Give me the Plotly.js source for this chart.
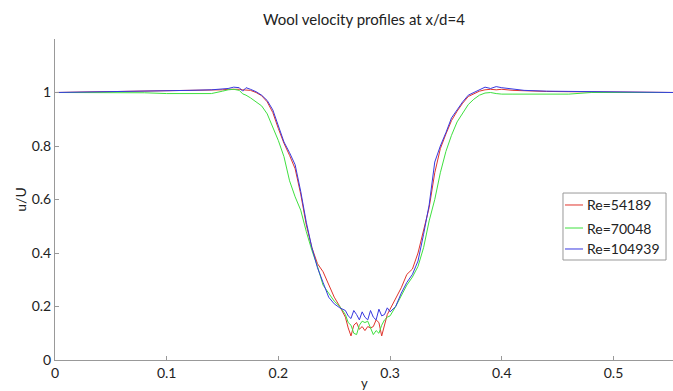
<!DOCTYPE html>
<html>
<head>
<meta charset="utf-8">
<script src="https://cdn.plot.ly/plotly-3.0.1.min.js"></script>
<style>html,body{margin:0;padding:0;background:#fff;}#chart{width:673px;height:391px;}</style>
</head>
<body>
<div id="chart"></div>
<script>
const xPos = [0, 0.02, 0.04, 0.06, 0.08, 0.10, 0.12, 0.14, 0.15, 0.155, 0.16, 0.165, 0.168, 0.171, 0.175, 0.18, 0.185, 0.19, 0.195, 0.20, 0.205, 0.21, 0.215, 0.22, 0.225, 0.23, 0.235, 0.24, 0.245, 0.25, 0.255, 0.26, 0.2625, 0.265, 0.2675, 0.27, 0.2725, 0.275, 0.2775, 0.28, 0.2825, 0.285, 0.2875, 0.29, 0.2925, 0.295, 0.2975, 0.30, 0.305, 0.31, 0.315, 0.32, 0.325, 0.33, 0.335, 0.34, 0.345, 0.35, 0.355, 0.36, 0.365, 0.37, 0.375, 0.38, 0.385, 0.39, 0.395, 0.40, 0.41, 0.42, 0.44, 0.46, 0.48, 0.50, 0.52, 0.54, 0.555];

const re54189 = [1.000, 1.001, 1.002, 1.003, 1.004, 1.006, 1.008, 1.009, 1.010, 1.012, 1.013, 1.012, 1.010, 1.010, 1.008, 1.000, 0.988, 0.965, 0.925, 0.865, 0.810, 0.765, 0.715, 0.620, 0.505, 0.420, 0.360, 0.330, 0.280, 0.235, 0.200, 0.160, 0.120, 0.090, 0.130, 0.140, 0.115, 0.125, 0.110, 0.125, 0.120, 0.125, 0.150, 0.140, 0.090, 0.130, 0.170, 0.190, 0.230, 0.270, 0.320, 0.340, 0.400, 0.480, 0.570, 0.700, 0.790, 0.845, 0.895, 0.930, 0.960, 0.985, 0.995, 1.005, 1.010, 1.012, 1.010, 1.012, 1.008, 1.006, 1.004, 1.003, 1.002, 1.001, 1.001, 1.000, 1.000];

const re70048 = [1.000, 1.000, 1.001, 1.001, 0.999, 0.996, 0.996, 0.996, 1.005, 1.010, 1.012, 1.008, 0.995, 0.990, 0.980, 0.965, 0.950, 0.920, 0.870, 0.820, 0.760, 0.670, 0.610, 0.560, 0.480, 0.410, 0.350, 0.280, 0.250, 0.220, 0.200, 0.170, 0.140, 0.130, 0.100, 0.095, 0.130, 0.145, 0.140, 0.145, 0.120, 0.095, 0.110, 0.100, 0.130, 0.150, 0.160, 0.165, 0.200, 0.240, 0.280, 0.310, 0.350, 0.420, 0.520, 0.600, 0.700, 0.780, 0.840, 0.890, 0.925, 0.955, 0.975, 0.990, 0.998, 1.000, 0.996, 0.994, 0.994, 0.994, 0.994, 0.994, 1.000, 1.000, 1.000, 1.000, 1.000];

const re104939 = [1.000, 1.001, 1.002, 1.003, 1.004, 1.005, 1.008, 1.010, 1.012, 1.015, 1.020, 1.018, 1.005, 1.018, 1.012, 1.003, 0.990, 0.970, 0.935, 0.875, 0.815, 0.775, 0.730, 0.630, 0.515, 0.420, 0.345, 0.290, 0.235, 0.210, 0.195, 0.185, 0.165, 0.155, 0.185, 0.170, 0.150, 0.180, 0.160, 0.150, 0.185, 0.160, 0.150, 0.190, 0.165, 0.170, 0.195, 0.180, 0.200, 0.250, 0.290, 0.320, 0.370, 0.470, 0.580, 0.740, 0.800, 0.850, 0.905, 0.935, 0.965, 0.990, 1.000, 1.010, 1.020, 1.015, 1.022, 1.018, 1.012, 1.008, 1.005, 1.004, 1.003, 1.002, 1.001, 1.000, 1.000];

const seriesNames = ['Re=54189', 'Re=70048', 'Re=104939'];
const seriesValues = [re54189, re70048, re104939];
const seriesColors = ['#e0342c', '#3fe03f', '#3838e0'];

const xTicks = [0, 0.1, 0.2, 0.3, 0.4, 0.5];
const yTicks = [0, 0.2, 0.4, 0.6, 0.8, 1];

const font = 'Lato, "Open Sans", sans-serif';

const traces = seriesNames.map((n, i) => ({
  type: 'scatter', mode: 'lines', name: n,
  x: xPos, y: seriesValues[i],
  line: {color: seriesColors[i], width: 1},
  showlegend: false
}));

// legend box drawn in paper coordinates
const legBox = {x0: 0.822, x1: 0.9887, y0: 0.3115, y1: 0.5202};
const legRowsY = [0.4829, 0.4112, 0.3458];
const shapes = [{type: 'rect', xref: 'paper', yref: 'paper', x0: legBox.x0, x1: legBox.x1, y0: legBox.y0, y1: legBox.y1, line: {color: '#999', width: 1}, fillcolor: '#fff', layer: 'above'}];
const annotations = [];
seriesNames.forEach((n, i) => {
  shapes.push({type: 'line', xref: 'paper', yref: 'paper', x0: 0.8252, x1: 0.8544, y0: legRowsY[i], y1: legRowsY[i], line: {color: seriesColors[i], width: 1}, layer: 'above'});
  annotations.push({xref: 'paper', yref: 'paper', x: 0.8576, y: legRowsY[i], xanchor: 'left', yanchor: 'middle', text: n, showarrow: false, font: {family: font, size: 14, color: '#222'}});
});
// x-axis title near the bottom edge
annotations.push({xref: 'paper', yref: 'paper', x: 0.5, y: -0.073, xanchor: 'center', yanchor: 'middle', text: 'y', showarrow: false, font: {family: font, size: 13, color: '#222'}});

const layout = {
  width: 673, height: 391,
  margin: {l: 55, r: 0, t: 39, b: 31, pad: 0},
  paper_bgcolor: '#fff', plot_bgcolor: '#fff',
  font: {family: font, size: 14, color: '#222'},
  title: {text: 'Wool velocity profiles at x/d=4', x: 0.5, xref: 'paper', y: 0.95, yref: 'container', yanchor: 'middle', font: {family: font, size: 15, color: '#222'}},
  showlegend: false,
  shapes: shapes,
  annotations: annotations,
  xaxis: {range: [0, 0.5533], tickvals: xTicks, ticks: 'inside', ticklen: 4, tickcolor: '#999', showline: true, linecolor: '#999', linewidth: 1, showgrid: false, zeroline: false, mirror: false,
    tickfont: {family: font, size: 14, color: '#222'}},
  yaxis: {range: [0, 1.2], tickvals: yTicks, ticks: 'inside', ticklen: 4, tickcolor: '#999', showline: true, linecolor: '#999', linewidth: 1, showgrid: false, zeroline: false, mirror: false,
    tickfont: {family: font, size: 14, color: '#222'},
    title: {text: 'u/U', standoff: 1, font: {family: font, size: 14, color: '#222'}}}
};

Plotly.newPlot('chart', traces, layout, {displayModeBar: false, staticPlot: true});
</script>
</body>
</html>
